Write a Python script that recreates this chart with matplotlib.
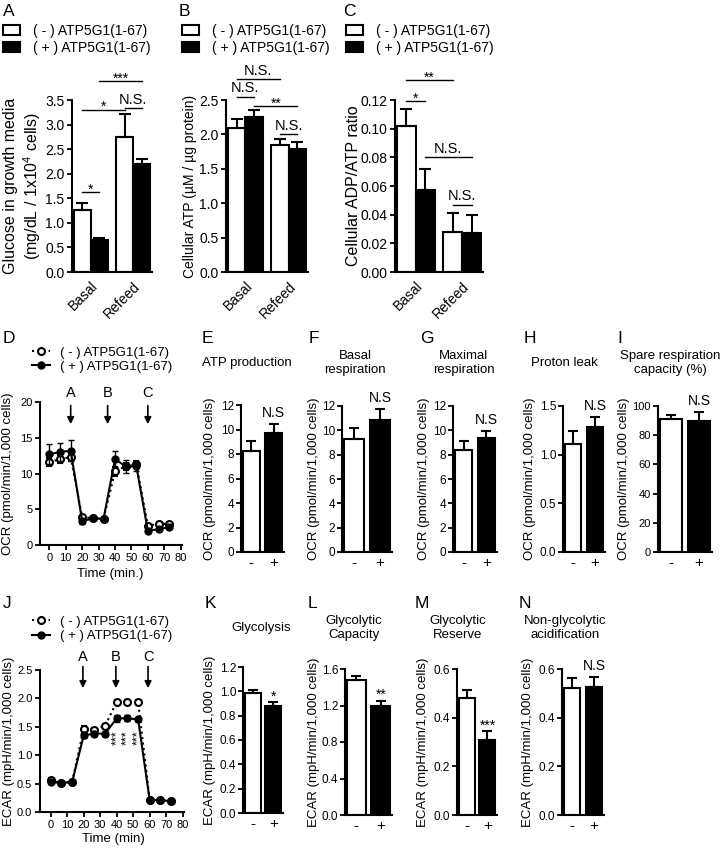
import numpy as np
import matplotlib
matplotlib.use('Agg')
import matplotlib.pyplot as plt
from matplotlib.patches import Patch
from matplotlib.lines import Line2D
from matplotlib.ticker import FormatStrFormatter

plt.rcParams['font.family'] = ['Liberation Sans', 'DejaVu Sans']
plt.rcParams['mathtext.fontset'] = 'custom'
plt.rcParams['mathtext.rm'] = 'Liberation Sans'

# ---------------- data ----------------
groups = ['Basal', 'Refeed']
legend_labels = ['( - ) ATP5G1(1-67)', '( + ) ATP5G1(1-67)']

glucose_minus = [1.27, 2.74]
glucose_minus_err = [0.13, 0.48]
glucose_plus = [0.65, 2.20]
glucose_plus_err = [0.04, 0.10]

atp_minus = [2.10, 1.84]
atp_minus_err = [0.12, 0.09]
atp_plus = [2.25, 1.79]
atp_plus_err = [0.11, 0.10]

ratio_minus = [0.102, 0.028]
ratio_minus_err = [0.012, 0.0135]
ratio_plus = [0.057, 0.027]
ratio_plus_err = [0.015, 0.0125]

# significance brackets: (bar i, bar j, height, label); bars: basal-, basal+, refeed-, refeed+
sig_glucose = [(0, 1, 1.62, '*'), (0, 2, 3.30, '*'), (2, 3, 3.33, 'N.S.'), (1, 3, 3.88, '***')]
sig_atp = [(0, 2, 2.80, 'N.S.'), (0, 1, 2.55, 'N.S.'), (1, 3, 2.41, '**'), (2, 3, 2.01, 'N.S.')]
sig_ratio = [(0, 1, 0.119, '*'), (0, 2, 0.134, '**'), (1, 3, 0.080, 'N.S.'), (2, 3, 0.047, 'N.S.')]

times = [0, 6.5, 13, 20, 26.5, 33, 40, 46.5, 53, 60, 66.5, 73]
ocr_minus = [11.6, 12.0, 12.3, 3.9, 3.75, 3.65, 10.3, 11.0, 11.3, 2.7, 2.95, 2.95]
ocr_minus_err = [0.5, 0.6, 0.6, 0.2, 0.2, 0.2, 0.6, 0.5, 0.4, 0.2, 0.2, 0.2]
ocr_plus = [12.7, 13.0, 13.2, 3.3, 3.75, 3.65, 12.0, 11.0, 11.0, 2.0, 2.2, 2.5]
ocr_plus_err = [1.4, 1.3, 1.5, 0.3, 0.2, 0.2, 1.1, 0.9, 0.6, 0.3, 0.2, 0.2]
inject_ocr = [13, 35.5, 60]

ecar_minus = [0.56, 0.51, 0.53, 1.47, 1.45, 1.52, 1.94, 1.94, 1.94, 0.21, 0.21, 0.19]
ecar_minus_err = [0.03, 0.02, 0.02, 0.04, 0.03, 0.03, 0.03, 0.03, 0.03, 0.01, 0.01, 0.01]
ecar_plus = [0.53, 0.51, 0.53, 1.35, 1.38, 1.38, 1.65, 1.65, 1.63, 0.21, 0.21, 0.19]
ecar_plus_err = [0.04, 0.02, 0.03, 0.05, 0.05, 0.05, 0.06, 0.05, 0.05, 0.01, 0.01, 0.01]
inject_ecar = [19.5, 39.5, 59]
ecar_star_idx = [6, 7, 8]

atp_production = [8.23, 9.68]
atp_production_err = [0.8, 0.77]
basal_resp = [9.26, 10.85]
basal_resp_err = [0.95, 0.9]
maximal_resp = [8.37, 9.4]
maximal_resp_err = [0.73, 0.55]
proton_leak = [1.11, 1.285]
proton_leak_err = [0.13, 0.10]
spare_capacity = [90.9, 89.7]
spare_capacity_err = [2.9, 6.0]

glycolysis = [0.99, 0.882]
glycolysis_err = [0.025, 0.033]
glyco_capacity = [1.476, 1.198]
glyco_capacity_err = [0.05, 0.055]
glyco_reserve = [0.48, 0.309]
glyco_reserve_err = [0.032, 0.035]
nonglyco_acid = [0.521, 0.524]
nonglyco_acid_err = [0.042, 0.045]

# ---------------- figure ----------------
W, H = 724, 850
fig = plt.figure(figsize=(W / 100, H / 100), dpi=100)


def axes_px(l, t, r, b):
    ax = fig.add_axes([l / W, 1 - b / H, (r - l) / W, (b - t) / H])
    ax.spines[['top', 'right']].set_visible(False)
    ax.spines[['left', 'bottom']].set_linewidth(1.5)
    ax.tick_params(width=1.3, length=3.5, color='k', pad=2)
    ax.set_facecolor('none')
    return ax


def ftext(x, y, s, **kw):
    fig.text(x / W, 1 - y / H, s, **kw)


def ylabel_px(ax, box, text, right_px, size):
    l, t, r, b = box
    ax.set_ylabel(text, fontsize=size)
    ax.yaxis.set_label_coords((right_px - l) / (r - l), 0.5)


def bar_errors(ax, x, vals, errs, cap):
    ax.errorbar(x, vals, yerr=[np.zeros(len(vals)), errs], fmt='none', ecolor='k',
                elinewidth=1.5, capsize=cap, capthick=1.5, zorder=3)


bar_handles = [Patch(facecolor='white', edgecolor='k', linewidth=1.5),
               Patch(facecolor='k', edgecolor='k', linewidth=1.5)]
line_handles = [Line2D([], [], color='k', ls=':', lw=1.5, marker='o', ms=5,
                       mfc='white', mec='k', mew=1.5),
                Line2D([], [], color='k', ls='-', lw=1.5, marker='o', ms=5, mfc='k')]

# ---------------- top row (A-C) ----------------
top_x = np.array([0.575, 1.525, 2.925, 3.875])


def top_panel(box, minus, minus_err, plus, plus_err, sigs, ymax, step, fmt):
    ax = axes_px(*box)
    xm, xp = top_x[[0, 2]], top_x[[1, 3]]
    ax.bar(xm, minus, 0.95, color='white', edgecolor='k', linewidth=1.5, zorder=2)
    ax.bar(xp, plus, 0.95, color='k', edgecolor='k', linewidth=1.5, zorder=2)
    bar_errors(ax, xm, minus, minus_err, 4)
    bar_errors(ax, xp, plus, plus_err, 4)
    ax.set_xlim(0, 4.45)
    ax.set_ylim(0, ymax)
    ax.set_yticks(np.arange(0, ymax + step / 2, step))
    ax.yaxis.set_major_formatter(FormatStrFormatter(fmt))
    ax.tick_params(axis='y', labelsize=10)
    ax.set_xticks([1.05, 3.4])
    ax.set_xticklabels(groups, rotation=45, ha='right', rotation_mode='anchor', fontsize=10)
    ax.tick_params(axis='x', length=0, pad=5)
    for i, j, h, s in sigs:
        ax.plot([top_x[i], top_x[j]], [h, h], color='k', lw=1, clip_on=False)
        star = s.startswith('*')
        ax.annotate(s, ((top_x[i] + top_x[j]) / 2, h), xytext=(0, -1 if star else 3),
                    textcoords='offset points', ha='center', va='baseline',
                    fontsize=10 if star else 10.5, annotation_clip=False)
    return ax


boxA = (72, 100, 152, 272)
boxB = (226, 100, 308, 272)
boxC = (395, 100, 483, 272)
axA = top_panel(boxA, glucose_minus, glucose_minus_err, glucose_plus, glucose_plus_err,
                sig_glucose, 3.5, 0.5, '%.1f')
ylabel_px(axA, boxA, 'Glucose in growth media\n(mg/dL / 1x10$^{4}$ cells)', 43, 11.5)
axB = top_panel(boxB, atp_minus, atp_minus_err, atp_plus, atp_plus_err,
                sig_atp, 2.5, 0.5, '%.1f')
ylabel_px(axB, boxB, 'Cellular ATP (µM / µg protein)', 197, 10)
axC = top_panel(boxC, ratio_minus, ratio_minus_err, ratio_plus, ratio_plus_err,
                sig_ratio, 0.12, 0.02, '%.2f')
ylabel_px(axC, boxC, 'Cellular ADP/ATP ratio', 361, 11.5)

for letter, lx, hx in [('A', 3, 3), ('B', 179, 182), ('C', 343, 346)]:
    ftext(lx, 11, letter, fontsize=12.5, ha='left', va='center')
    fig.legend(bar_handles, legend_labels, loc='center left',
               bbox_to_anchor=(hx / W, 1 - 39.5 / H), frameon=False, borderpad=0,
               borderaxespad=0, handlelength=1.25, handleheight=0.72,
               handletextpad=0.9, labelspacing=0.25, fontsize=10)

# ---------------- time courses (D, J) ----------------


def time_panel(box, minus, minus_err, plus, plus_err, ymax, step, fmt, xlim):
    ax = axes_px(*box)
    ax.errorbar(times, minus, yerr=minus_err, fmt=':o', color='k', lw=1.5, ms=5,
                mfc='white', mec='k', mew=1.5, elinewidth=1, capsize=2.5, zorder=3)
    ax.errorbar(times, plus, yerr=plus_err, fmt='-o', color='k', lw=1.5, ms=5,
                mfc='k', mec='k', elinewidth=1, capsize=2.5, zorder=4)
    ax.set_xlim(*xlim)
    ax.set_ylim(0, ymax)
    ax.set_xticks(np.arange(0, 81, 10))
    ax.set_yticks(np.arange(0, ymax + step / 2, step))
    ax.yaxis.set_major_formatter(FormatStrFormatter(fmt))
    ax.tick_params(labelsize=8)
    return ax


boxD = (40, 402, 182, 545)
axD = time_panel(boxD, ocr_minus, ocr_minus_err, ocr_plus, ocr_plus_err, 20, 5, '%d',
                 (-5.7, 80.8))
ylabel_px(axD, boxD, 'OCR (pmol/min/1,000 cells)', 14, 9.5)
axD.set_xlabel('Time (min.)', fontsize=9.5)
axD.xaxis.set_label_coords((110 - 40) / 142, -(568 - 545) / 143)
for name, t in zip('ABC', inject_ocr):
    axD.annotate('', xy=(t, 16.9), xytext=(t, 19.5),
                 arrowprops=dict(arrowstyle='-|>', color='k', lw=1.2, mutation_scale=10,
                                 shrinkA=0, shrinkB=0), annotation_clip=False)
    axD.text(t, 21.3, name, ha='center', va='center', fontsize=10.5, clip_on=False)

boxJ = (40, 670, 184, 812)
axJ = time_panel(boxJ, ecar_minus, ecar_minus_err, ecar_plus, ecar_plus_err, 2.5, 0.5,
                 '%.1f', (-6.5, 80.8))
ylabel_px(axJ, boxJ, 'ECAR (mpH/min/1,000 cells)', 15, 9.5)
axJ.set_xlabel('Time (min)', fontsize=9.5)
axJ.xaxis.set_label_coords((113 - 40) / 144, -(833 - 812) / 142)
for name, t in zip('ABC', inject_ecar):
    axJ.annotate('', xy=(t, 2.18), xytext=(t, 2.56),
                 arrowprops=dict(arrowstyle='-|>', color='k', lw=1.2, mutation_scale=10,
                                 shrinkA=0, shrinkB=0), annotation_clip=False)
    axJ.text(t, 2.73, name, ha='center', va='center', fontsize=10.5, clip_on=False)
for i in ecar_star_idx:
    axJ.text(times[i], 1.31, '***', rotation=90, ha='center', va='center', fontsize=9)

for letter, ly, legy in [('D', 338, 359.5), ('J', 603, 629)]:
    ftext(3, ly, letter, fontsize=12.5, ha='left', va='center')
    fig.legend(line_handles, legend_labels, loc='center left',
               bbox_to_anchor=(32 / W, 1 - legy / H), frameon=False, borderpad=0,
               borderaxespad=0, handlelength=1.4, handletextpad=0.7, labelspacing=0.15,
               fontsize=9.5)

# ---------------- paired bar panels (E-I, K-N) ----------------
pair_x = np.array([0.6, 1.9])


def pair_panel(box, vals, errs, ymax, step, fmt, stat, tick_size):
    ax = axes_px(*box)
    ax.bar(pair_x, vals, 1.0, color=['white', 'k'], edgecolor='k', linewidth=1.5, zorder=2)
    bar_errors(ax, pair_x, vals, errs, 3.5)
    ax.set_xlim(0, 2.5)
    ax.set_ylim(0, ymax)
    ax.set_yticks(np.arange(0, ymax + step / 2, step))
    ax.yaxis.set_major_formatter(FormatStrFormatter(fmt))
    ax.tick_params(axis='y', labelsize=tick_size, pad=1.5)
    ax.set_xticks(pair_x)
    ax.set_xticklabels(['-', '+'], fontsize=11)
    ax.tick_params(axis='x', length=0, pad=3)
    star = stat.startswith('*')
    ax.annotate(stat, (pair_x[1], vals[1] + errs[1]), xytext=(0, 1 if star else 5),
                textcoords='offset points', ha='center', va='baseline',
                fontsize=10, annotation_clip=False)
    return ax


ocr_label = 'OCR (pmol/min/1,000 cells)'
ecar_label = 'ECAR (mpH/min/1,000 cells)'
pair_specs = [
    ('E', 202, 'ATP production', 247, (241, 405, 284, 552), atp_production,
     atp_production_err, 12, 2, '%d', 'N.S', ocr_label, 216, 8.5),
    ('F', 309, 'Basal\nrespiration', 355, (342, 406, 392, 552), basal_resp,
     basal_resp_err, 12, 2, '%d', 'N.S', ocr_label, 320, 8.5),
    ('G', 420, 'Maximal\nrespiration', 464, (453, 406, 497, 552), maximal_resp,
     maximal_resp_err, 12, 2, '%d', 'N.S', ocr_label, 430, 8.5),
    ('H', 524, 'Proton leak', 564, (563, 406, 605, 552), proton_leak,
     proton_leak_err, 1.5, 0.5, '%.1f', 'N.S', ocr_label, 536, 8.5),
    ('I', 617, 'Spare respiration\ncapacity (%)', 670, (658, 406, 712, 552), spare_capacity,
     spare_capacity_err, 100, 20, '%d', 'N.S', ocr_label, 630, 8),
    ('K', 205, 'Glycolysis', 261, (243, 667, 283, 813), glycolysis,
     glycolysis_err, 1.2, 0.2, '%.1f', '*', ecar_label, 216, 8.5),
    ('L', 308, 'Glycolytic\nCapacity', 354, (345, 669, 392, 815), glyco_capacity,
     glyco_capacity_err, 1.6, 0.4, '%.1f', '**', ecar_label, 320, 8.5),
    ('M', 415, 'Glycolytic\nReserve', 458, (457, 669, 497, 815), glyco_reserve,
     glyco_reserve_err, 0.6, 0.2, '%.1f', '***', ecar_label, 429, 8.5),
    ('N', 519, 'Non-glycolytic\nacidification', 565, (562, 669, 604, 815), nonglyco_acid,
     nonglyco_acid_err, 0.6, 0.2, '%.1f', 'N.S', ecar_label, 534, 8.5),
]

for (letter, lx, title, tx, box, vals, errs, ymax, step, fmt, stat, ylab, ylx,
     tsize) in pair_specs:
    ax = pair_panel(box, vals, errs, ymax, step, fmt, stat, tsize)
    ylabel_px(ax, box, ylab, ylx, 9.5)
    row_top = 338 if box[1] < 600 else 603
    ftext(lx, row_top, letter, fontsize=12.5, ha='left', va='center')
    ftext(tx, row_top + 25, title, fontsize=9.5, ha='center', va='center',
          multialignment='center', linespacing=1.25)

fig.savefig('out.png', dpi=100)
